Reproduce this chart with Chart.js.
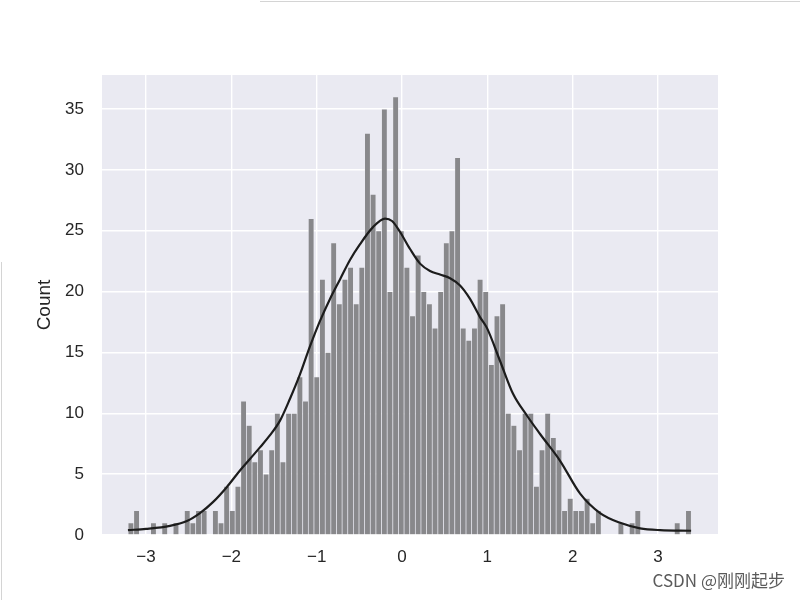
<!DOCTYPE html>
<html>
<head>
<meta charset="utf-8">
<script src="https://cdn.jsdelivr.net/npm/chart.js@4.4.1/dist/chart.umd.min.js"></script>
<style>
  html, body { margin: 0; padding: 0; background: #ffffff; }
  #wrap { width: 800px; height: 600px; position: relative; }
</style>
</head>
<body>
<div id="wrap"><canvas id="c" width="800" height="600"></canvas></div>
<script>
// ---- data ----
const binMin = -3.21;
const binMax = 3.39;
const counts = [
  1,2,0,0,1,0,1,0,1,0,2,1,2,2,0,2,1,4,2,4,11,9,6,
  7,5,7,10,6,10,10,13,11,26,13,21,15,24,19,
  21,22,19,22,33,28,25,35,20,36,
  25,22,18,23,20,19,17,20,24,25,31,17,16,17,21,20,
  14,18,19,10,9,
  7,10,10,4,7,10,8,7,2,3,2,2,3,1,2,
  0,0,0,1,0,1,2,0,0,0,0,0,0,1,0,2
];
const kdeX = [-3.212,-3.001,-2.720,-2.521,-2.368,-2.216,-2.052,-1.899,-1.782,-1.665,-1.547,-1.430,-1.313,-1.196,-1.079,-0.961,-0.844,-0.727,-0.610,-0.492,-0.340,-0.199,-0.117,-0.023,0.094,0.211,0.328,0.445,0.563,0.680,0.797,0.914,0.996,1.149,1.301,1.465,1.618,1.852,2.087,2.321,2.556,2.790,3.025,3.388];
const kdeY = [0.4,0.5,0.75,1.15,1.8,2.7,3.95,5.3,6.25,7.2,8.2,9.4,11.2,13.2,15.5,17.6,19.4,21.0,22.6,23.9,25.3,26.0,25.8,24.9,23.5,22.3,21.7,21.4,21.1,20.5,19.4,17.9,17.0,14.3,11.6,9.8,8.3,6.1,3.4,1.8,1.0,0.55,0.4,0.35];
const xTicks = [-3,-2,-1,0,1,2,3];
const yTicks = [0,5,10,15,20,25,30,35];
const yLabel = 'Count';
const watermark = 'CSDN @刚刚起步';

const binW = (binMax - binMin) / counts.length;
const barData = counts.map((c, i) => ({ x: binMin + (i + 0.5) * binW, y: c }));
const kdeData = kdeX.map((x, i) => ({ x: x, y: kdeY[i] }));

const bgPlugin = {
  id: 'bg',
  beforeDraw(chart) {
    const { ctx, chartArea: a } = chart;
    ctx.save();
    ctx.fillStyle = '#eaeaf2';
    ctx.fillRect(a.left, a.top, a.right - a.left, a.bottom - a.top);
    ctx.restore();
  },
  afterDraw(chart) {
    const ctx = chart.ctx;
    ctx.save();
    // screenshot edge artifacts
    ctx.strokeStyle = '#d4d4d4';
    ctx.lineWidth = 1;
    ctx.beginPath(); ctx.moveTo(260, 1.5); ctx.lineTo(800, 1.5); ctx.stroke();
    ctx.beginPath(); ctx.moveTo(1.5, 262); ctx.lineTo(1.5, 600); ctx.stroke();
    // watermark
    ctx.font = '17px "Noto Sans CJK SC", "Liberation Sans", sans-serif';
    ctx.fillStyle = '#5a5a5a';
    ctx.textAlign = 'right';
    ctx.textBaseline = 'middle';
    ctx.fillText(watermark, 785, 581);
    ctx.restore();
  }
};

const FONT = '"Liberation Sans", Arial, sans-serif';

new Chart(document.getElementById('c'), {
  type: 'bar',
  data: {
    datasets: [
      {
        type: 'line',
        data: kdeData,
        borderColor: '#1c1c1c',
        borderWidth: 2.2,
        pointRadius: 0,
        cubicInterpolationMode: 'monotone',
        fill: false,
        order: 0
      },
      {
        type: 'bar',
        data: barData,
        backgroundColor: '#88888b',
        borderColor: 'rgba(234,234,242,0.55)',
        borderWidth: 0.7,
        barPercentage: 1.0,
        categoryPercentage: 1.0,
        order: 1
      }
    ]
  },
  options: {
    responsive: false,
    animation: false,
    layout: { padding: { left: 0, right: 82, top: 75, bottom: 0 } },
    plugins: { legend: { display: false }, tooltip: { enabled: false } },
    scales: {
      x: {
        type: 'linear',
        offset: false,
        min: -3.516,
        max: 3.703,
        afterBuildTicks: s => { s.ticks = xTicks.map(v => ({ value: v })); },
        afterFit: s => { s.height = 65; },
        grid: { color: '#ffffff', lineWidth: 1.4, drawTicks: false, offset: false },
        border: { display: false },
        ticks: {
          padding: 12,
          color: '#262626',
          font: { family: FONT, size: 17 },
          maxRotation: 0,
          callback: v => (v < 0 ? '\u2212' + Math.abs(v) : String(v))
        }
      },
      y: {
        type: 'linear',
        min: 0,
        max: 37.8,
        afterBuildTicks: s => { s.ticks = yTicks.map(v => ({ value: v })); },
        afterFit: s => { s.width = 102; },
        grid: { color: '#ffffff', lineWidth: 1.4, drawTicks: false },
        border: { display: false },
        ticks: {
          padding: 18,
          color: '#262626',
          font: { family: FONT, size: 17 }
        },
        title: {
          display: true,
          text: yLabel,
          color: '#262626',
          font: { family: FONT, size: 19 },
          padding: { top: 33, bottom: 0 }
        }
      }
    }
  },
  plugins: [bgPlugin]
});
</script>
</body>
</html>
